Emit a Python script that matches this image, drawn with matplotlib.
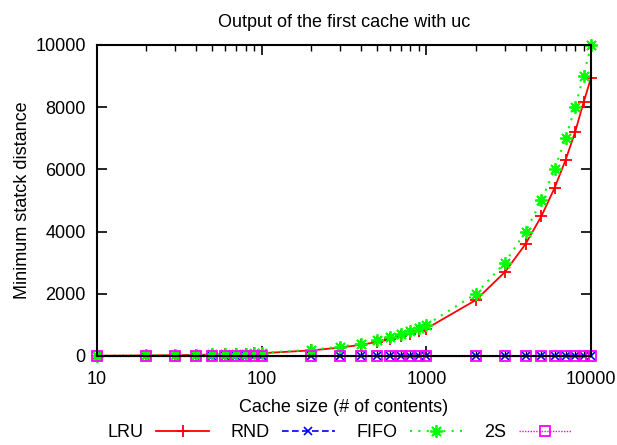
import matplotlib
matplotlib.use("Agg")
import matplotlib.pyplot as plt

plt.rcParams['font.family'] = ['Liberation Sans', 'DejaVu Sans']

# cache sizes
cache_size = [10, 20, 30, 40, 50, 60, 70, 80, 90, 100,
              200, 300, 400, 500, 600, 700, 800, 900, 1000,
              2000, 3000, 4000, 5000, 6000, 7000, 8000, 9000, 10000]

lru = [9, 18, 27, 36, 45, 54, 63, 72, 81, 90,
       180, 270, 360, 450, 540, 630, 720, 810, 880,
       1800, 2700, 3600, 4500, 5400, 6300, 7200, 8150, 8950]
rnd = [0] * len(cache_size)
fifo = [10, 20, 30, 40, 50, 60, 70, 80, 90, 100,
        200, 300, 400, 500, 600, 700, 800, 900, 1000,
        2000, 3000, 4000, 5000, 6000, 7000, 8000, 9000, 10000]
two_s = [0] * len(cache_size)

fig = plt.figure(figsize=(6.17, 4.45), dpi=100)
ax = fig.add_axes([0.157, 0.2, 0.801, 0.699])

ax.plot(cache_size, lru, color='#ff0000', linestyle='-', marker='+',
        markersize=9, markeredgewidth=1.3, linewidth=1.3, label='LRU', clip_on=False)
ax.plot(cache_size, rnd, color='#0000ff', linestyle=(0, (4, 2)), marker='x',
        markersize=6, markeredgewidth=1.2, linewidth=1.2, label='RND', clip_on=False)
ax.plot(cache_size, fifo, color='#00ff00', linestyle=(0, (1, 3)), marker=(8, 2, 0),
        markersize=9, markeredgewidth=1.3, linewidth=1.5, label='FIFO', clip_on=False)
ax.plot(cache_size, two_s, color='#ff00ff', linestyle=(0, (1, 1)), marker='s',
        markerfacecolor='none', markersize=7, markeredgewidth=1.3, linewidth=1.0,
        label='2S', clip_on=False)

ax.set_xscale('log')
ax.set_xlim(10, 10000)
ax.set_ylim(0, 10000)
ax.set_xticks([10, 100, 1000, 10000])
ax.set_xticklabels(['10', '100', '1000', '10000'])
ax.set_yticks([0, 2000, 4000, 6000, 8000, 10000])

ax.tick_params(direction='in', top=True, right=True, labelsize=13, length=7, width=1.2)
ax.tick_params(axis='x', pad=11)
ax.tick_params(axis='y', pad=8)
ax.tick_params(which='minor', direction='in', top=True, right=True, length=4, width=1.0)
for s in ax.spines.values():
    s.set_linewidth(1.5)

ax.set_title('Output of the first cache with uc', fontsize=13, pad=13)
ax.set_xlabel('Cache size (# of contents)', fontsize=13, labelpad=8)
ax.set_ylabel('Minimum statck distance', fontsize=13, labelpad=3)

fig.legend(loc='center', bbox_to_anchor=(0.55, 0.027), ncol=4, frameon=False,
           markerfirst=False, fontsize=13, handlelength=2.9, columnspacing=1.2,
           handletextpad=0.7, borderpad=0)

fig.savefig('out.png', dpi=100)
